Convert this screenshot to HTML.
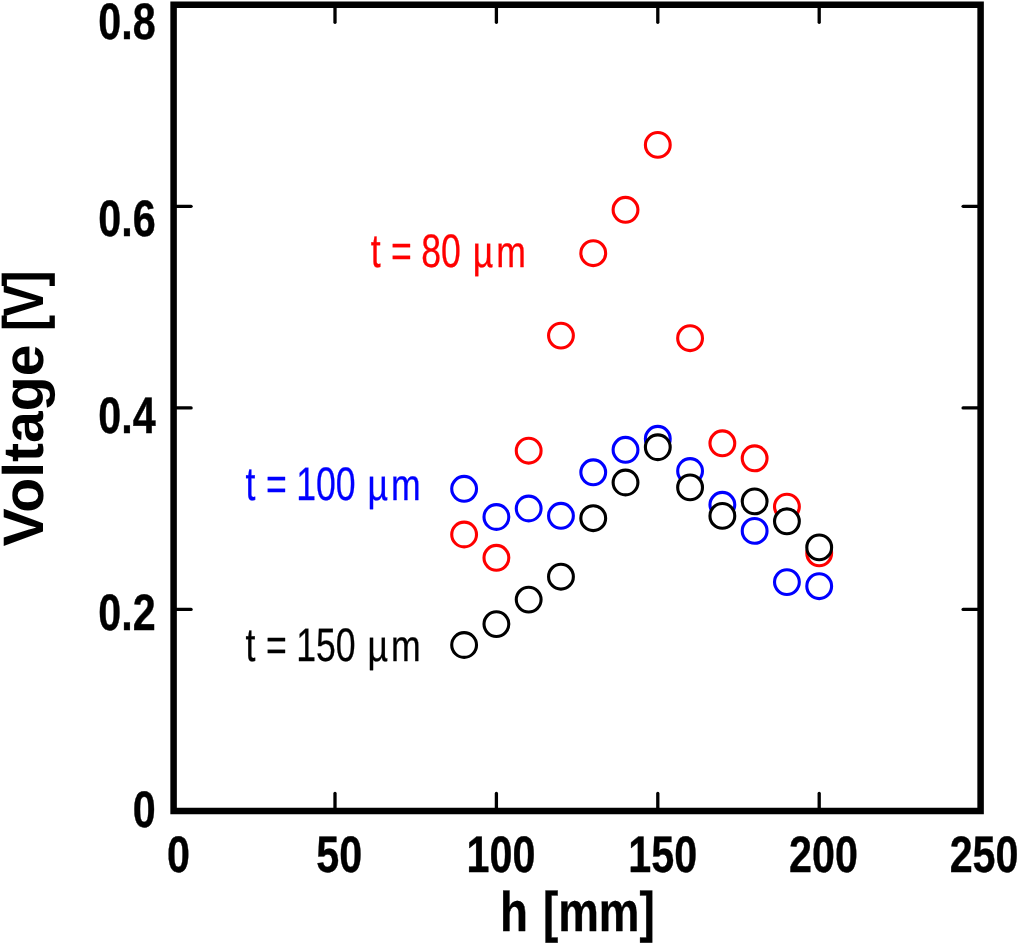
<!DOCTYPE html>
<html lang="en"><head><meta charset="utf-8"><title>Voltage vs h</title>
<style>html,body{margin:0;padding:0;background:#fff}body{width:1020px;height:945px;overflow:hidden}svg{display:block}text{font-family:"Liberation Sans",Arial,Helvetica,sans-serif;text-rendering:geometricPrecision}.tk,.ax{stroke:#000;stroke-width:0.4px;vector-effect:non-scaling-stroke;stroke-linejoin:round}.sq{stroke-width:0.3px;vector-effect:non-scaling-stroke;stroke-linejoin:round}.tk{font-size:51.3px;font-weight:700}.ax{font-size:56px;font-weight:700}.vl{font-size:57.1px;font-weight:700}</style></head><body>
<svg style="will-change:transform" width="1020" height="945" viewBox="0 0 1020 945">
<rect x="0" y="0" width="1020" height="945" fill="#fff"/>
<g stroke="#000" stroke-width="3.3" stroke-linecap="round" fill="none">
<line x1="335.00" y1="4.75" x2="335.00" y2="22.25"/>
<line x1="335.00" y1="811.00" x2="335.00" y2="793.50"/>
<line x1="496.40" y1="4.75" x2="496.40" y2="22.25"/>
<line x1="496.40" y1="811.00" x2="496.40" y2="793.50"/>
<line x1="657.80" y1="4.75" x2="657.80" y2="22.25"/>
<line x1="657.80" y1="811.00" x2="657.80" y2="793.50"/>
<line x1="819.20" y1="4.75" x2="819.20" y2="22.25"/>
<line x1="819.20" y1="811.00" x2="819.20" y2="793.50"/>
<line x1="173.60" y1="609.44" x2="191.10" y2="609.44"/>
<line x1="980.60" y1="609.44" x2="963.10" y2="609.44"/>
<line x1="173.60" y1="407.88" x2="191.10" y2="407.88"/>
<line x1="980.60" y1="407.88" x2="963.10" y2="407.88"/>
<line x1="173.60" y1="206.31" x2="191.10" y2="206.31"/>
<line x1="980.60" y1="206.31" x2="963.10" y2="206.31"/>
</g>
<rect x="173.60" y="4.75" width="807.00" height="806.25" fill="none" stroke="#000" stroke-width="6.5"/>
<g fill="#fff" stroke="#ff0000" stroke-width="3.1">
<circle cx="464.12" cy="534.50" r="12.4"/>
<circle cx="496.40" cy="557.80" r="12.4"/>
<circle cx="528.68" cy="450.70" r="12.4"/>
<circle cx="560.96" cy="335.60" r="12.4"/>
<circle cx="593.24" cy="253.20" r="12.4"/>
<circle cx="625.52" cy="209.80" r="12.4"/>
<circle cx="657.80" cy="144.90" r="12.4"/>
<circle cx="690.08" cy="338.20" r="12.4"/>
<circle cx="722.36" cy="443.30" r="12.4"/>
<circle cx="754.64" cy="458.30" r="12.4"/>
<circle cx="786.92" cy="506.60" r="12.4"/>
<circle cx="819.20" cy="553.30" r="12.4"/>
</g>
<g fill="#fff" stroke="#0000ff" stroke-width="3.1">
<circle cx="464.12" cy="488.80" r="12.4"/>
<circle cx="496.40" cy="517.00" r="12.4"/>
<circle cx="528.68" cy="508.50" r="12.4"/>
<circle cx="560.96" cy="515.80" r="12.4"/>
<circle cx="593.24" cy="472.30" r="12.4"/>
<circle cx="625.52" cy="449.80" r="12.4"/>
<circle cx="657.80" cy="438.80" r="12.4"/>
<circle cx="690.08" cy="471.00" r="12.4"/>
<circle cx="722.36" cy="504.80" r="12.4"/>
<circle cx="754.64" cy="530.90" r="12.4"/>
<circle cx="786.92" cy="582.10" r="12.4"/>
<circle cx="819.20" cy="586.20" r="12.4"/>
</g>
<g fill="#fff" stroke="#000000" stroke-width="3.1">
<circle cx="464.12" cy="645.00" r="12.4"/>
<circle cx="496.40" cy="624.10" r="12.4"/>
<circle cx="528.68" cy="599.60" r="12.4"/>
<circle cx="560.96" cy="576.70" r="12.4"/>
<circle cx="593.24" cy="518.20" r="12.4"/>
<circle cx="625.52" cy="482.50" r="12.4"/>
<circle cx="657.80" cy="447.25" r="12.4"/>
<circle cx="690.08" cy="487.40" r="12.4"/>
<circle cx="722.36" cy="515.90" r="12.4"/>
<circle cx="754.64" cy="501.40" r="12.4"/>
<circle cx="786.92" cy="521.30" r="12.4"/>
<circle cx="819.20" cy="547.40" r="12.4"/>
</g>
<text class="tk" transform="translate(155.60,39.00) scale(0.805,1)" text-anchor="end" fill="#000">0.8</text>
<text class="tk" transform="translate(155.60,236.00) scale(0.805,1)" text-anchor="end" fill="#000">0.6</text>
<text class="tk" transform="translate(155.60,433.00) scale(0.805,1)" text-anchor="end" fill="#000">0.4</text>
<text class="tk" transform="translate(155.60,630.00) scale(0.805,1)" text-anchor="end" fill="#000">0.2</text>
<text class="tk" transform="translate(155.60,827.00) scale(0.805,1)" text-anchor="end" fill="#000">0</text>
<text class="tk" transform="translate(178.50,872.00) scale(0.805,1)" text-anchor="middle" fill="#000">0</text>
<text class="tk" transform="translate(339.30,872.00) scale(0.805,1)" text-anchor="middle" fill="#000">50</text>
<text class="tk" transform="translate(501.00,872.00) scale(0.805,1)" text-anchor="middle" fill="#000">100</text>
<text class="tk" transform="translate(662.80,872.00) scale(0.805,1)" text-anchor="middle" fill="#000">150</text>
<text class="tk" transform="translate(823.50,872.00) scale(0.805,1)" text-anchor="middle" fill="#000">200</text>
<text class="tk" transform="translate(984.10,872.00) scale(0.805,1)" text-anchor="middle" fill="#000">250</text>
<text class="ax" transform="translate(577.40,931.00) scale(0.816,1)" text-anchor="middle" fill="#000" word-spacing="2.8">h [mm]</text>
<text class="vl" transform="translate(43.20,546.50) rotate(-90) scale(1.0,1)" text-anchor="start" fill="#000">Voltage</text>
<text class="vl" transform="translate(43.20,331.00) rotate(-90) scale(0.84,1)" text-anchor="start" fill="#000" letter-spacing="-2.0">[V]</text>
<g fill="#ff0000" stroke="#ff0000">
<text class="sq" font-size="47.0" transform="translate(370.70,267.00) scale(0.7574,1)">t <tspan dx="0.79">=</tspan> <tspan dx="-0.66">80</tspan></text>
<text class="sq" font-size="44.2" transform="translate(472.76,267.00) scale(0.8054,1)">µ<tspan dx="3.79">m</tspan></text>
</g>
<g fill="#0000ff" stroke="#0000ff">
<text class="sq" font-size="47.0" transform="translate(245.60,500.00) scale(0.7574,1)">t <tspan dx="0.79">=</tspan> <tspan dx="-0.66">100</tspan></text>
<text class="sq" font-size="44.2" transform="translate(367.46,500.00) scale(0.8054,1)">µ<tspan dx="3.79">m</tspan></text>
</g>
<g fill="#000000" stroke="#000000">
<text class="sq" font-size="47.0" transform="translate(245.60,661.00) scale(0.7574,1)">t <tspan dx="0.79">=</tspan> <tspan dx="-0.66">150</tspan></text>
<text class="sq" font-size="44.2" transform="translate(367.46,661.00) scale(0.8054,1)">µ<tspan dx="3.79">m</tspan></text>
</g>
</svg></body></html>
